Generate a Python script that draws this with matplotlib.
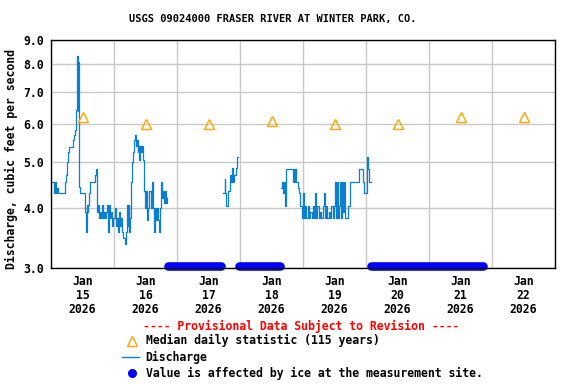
import matplotlib

matplotlib.use("Agg")
import matplotlib.pyplot as plt
import matplotlib.dates as mdates
import pandas as pd

START = pd.Timestamp("2026-01-15 00:00")
END = pd.Timestamp("2026-01-23 00:00")

# discharge (cfs), hours after Jan 15 00:00, step values
seg1_hours = [0.0, 1.0, 1.4, 1.8, 2.3, 2.8, 5.3, 5.7, 6.0, 6.35, 6.7, 8.25, 8.9, 9.3, 9.65,
              9.9, 10.15, 10.3, 10.45, 10.8, 11.2, 12.8, 13.1, 13.4, 13.7, 14.0, 14.2, 14.6,
              15.0, 16.8, 17.1, 17.4, 17.8, 18.2, 18.6, 19.0, 19.4, 19.8, 20.2, 20.6, 21.0,
              21.4, 21.8, 22.2, 22.6, 23.0, 23.4, 23.8, 24.3, 24.7, 25.1, 25.5, 25.9, 26.3,
              26.7, 27.1, 27.5, 28.0, 28.7, 29.0, 29.3, 29.6, 29.9, 30.2, 30.4, 30.8, 31.1,
              31.5, 31.8, 32.1, 32.4, 32.7, 33.0, 33.3, 33.6, 34.0, 34.4, 34.8, 35.2, 35.5,
              35.8, 36.3, 36.7, 37.1, 37.5, 38.0, 38.4, 38.7, 39.1, 39.5, 39.9, 40.4, 40.8,
              41.3, 41.7, 42.0, 42.3, 42.7, 43.1, 43.5, 43.8, 44.2]
seg1_cfs = [4.55, 4.30, 4.55, 4.30, 4.42, 4.30, 4.55, 4.70, 4.99, 5.24, 5.38, 5.56, 5.69, 5.84, 6.42,
            8.34, 8.10, 6.40, 8.10, 4.44, 4.30, 4.20, 3.93, 3.57, 4.06, 3.93, 4.06, 4.30,
            4.55, 4.70, 4.83, 3.93, 4.06, 3.81, 3.93, 3.81, 4.06, 3.81, 3.93, 3.81, 3.93,
            4.06, 3.57, 4.06, 3.81, 3.93, 3.67, 3.81, 4.00, 3.67, 3.81, 3.57, 3.93, 3.67,
            3.81, 3.57, 3.46, 3.36, 3.57, 4.06, 3.67, 4.06, 3.57, 3.81, 4.55, 4.99, 5.24,
            5.38, 5.56, 5.69, 5.41, 5.56, 5.24, 5.41, 5.05, 5.41, 5.24, 5.41, 5.05, 4.34,
            4.00, 4.34, 3.78, 4.00, 4.34, 4.00, 4.55, 4.00, 3.57, 4.00, 3.78, 4.00, 3.78,
            3.57, 4.00, 4.55, 4.20, 4.34, 4.10, 4.34, 4.10, 4.20]

seg2_hours = [65.6, 66.1, 66.3, 66.7, 67.5, 68.2, 68.6, 69.0, 69.3, 69.7, 70.3, 70.9, 71.4]
seg2_cfs = [4.30, 4.60, 4.30, 4.05, 4.35, 4.70, 4.55, 4.85, 4.55, 4.70, 4.85, 5.13, 5.13]

seg3_hours = [87.6, 88.0, 88.3, 88.7, 89.0, 89.4, 89.7, 92.2, 92.5, 92.8, 93.1, 93.5, 94.0,
              94.4, 94.9, 95.6, 96.0, 96.4, 96.8, 97.3, 97.8, 98.3, 98.8, 99.3, 99.8, 100.3,
              100.6, 101.0, 101.5, 102.0, 102.5, 103.0, 103.5, 104.0, 104.3, 104.8, 105.3,
              105.8, 106.3, 106.8, 107.3, 107.8, 108.2, 108.6, 109.0, 109.3, 109.7, 110.1,
              110.5, 110.9, 111.3, 111.7, 112.0, 113.3, 113.9, 117.5, 119.0, 119.4, 120.4,
              120.7, 120.9, 121.3, 121.8]
seg3_cfs = [4.42, 4.55, 4.30, 4.55, 4.05, 4.55, 4.83, 4.55, 4.83, 4.55, 4.83, 4.55, 4.42,
            4.30, 4.05, 3.81, 4.30, 3.81, 4.05, 3.81, 4.05, 3.81, 3.93, 3.81, 4.05, 3.81,
            4.30, 3.81, 4.05, 3.81, 3.93, 3.81, 4.05, 4.30, 3.81, 4.05, 3.81,
            3.93, 3.81, 4.05, 3.81, 4.05, 4.55, 3.81, 4.55, 3.81, 4.05, 4.55,
            3.81, 4.55, 3.93, 4.55, 3.81, 4.05, 4.55, 4.83, 4.55, 4.30, 5.11,
            4.97, 4.83, 4.55, 4.55]

# ice-affected periods (hours after Jan 15 00:00)
ice_start_hours = [44.6, 71.6, 121.9]
ice_end_hours = [64.8, 87.2, 164.6]

# median daily statistic at noon of each day
median_days = ["2026-01-15", "2026-01-16", "2026-01-17", "2026-01-18",
               "2026-01-19", "2026-01-20", "2026-01-21", "2026-01-22"]
median_cfs = [6.2, 6.0, 6.0, 6.1, 6.0, 6.0, 6.2, 6.2]

y_ticks = [3.0, 4.0, 5.0, 6.0, 7.0, 8.0, 9.0]

FONT = dict(family="DejaVu Sans Mono", weight="bold")
LINE_COLOR = "#0a7fd1"
MEDIAN_COLOR = "#ffa500"
ICE_COLOR = "#0000ff"


def to_time(hours):
    return START + pd.to_timedelta(hours, unit="h")


fig = plt.figure(figsize=(5.76, 3.84), dpi=100)
ax = fig.add_axes([51 / 576, 1 - 268 / 384, 504 / 576, 228 / 384])

for hrs, cfs in [(seg1_hours, seg1_cfs), (seg2_hours, seg2_cfs), (seg3_hours, seg3_cfs)]:
    ax.plot(to_time(hrs), cfs, color=LINE_COLOR, lw=0.9, drawstyle="steps-post", zorder=3)

for h0, h1 in zip(ice_start_hours, ice_end_hours):
    ax.plot(to_time([h0, h1]), [3.035, 3.035], color=ICE_COLOR, lw=6.2,
            solid_capstyle="round", clip_on=False, zorder=2)

med_t = pd.to_datetime(median_days) + pd.Timedelta(hours=12)
ax.plot(med_t, median_cfs, ls="none", marker="^", ms=7.5, mfc="none",
        mec=MEDIAN_COLOR, mew=1.0, zorder=4)

ax.set_yscale("log")
ax.set_ylim(3.0, 9.0)
ax.set_xlim(START, END)
ax.yaxis.set_major_locator(plt.FixedLocator(y_ticks))
ax.yaxis.set_minor_locator(plt.NullLocator())
ax.set_yticklabels([f"{v:.1f}" for v in y_ticks], **FONT, fontsize=8.3)

ax.xaxis.set_major_locator(mdates.HourLocator(byhour=12))
ax.xaxis.set_minor_locator(mdates.DayLocator())
ax.xaxis.set_major_formatter(
    plt.FuncFormatter(lambda x, pos: (lambda d: f"{d:%b}\n{d.day}\n{d.year}")(mdates.num2date(x))))
for lab in ax.get_xticklabels():
    lab.set_fontfamily("DejaVu Sans Mono")
    lab.set_fontweight("bold")
    lab.set_fontsize(8.3)
    lab.set_linespacing(1.1)

ax.tick_params(axis="both", which="both", length=0)
ax.tick_params(axis="x", pad=5)
ax.tick_params(axis="y", pad=5)
ax.grid(True, axis="y", which="major", color="#c8c8c8", lw=1.0)
ax.grid(True, axis="x", which="minor", color="#c8c8c8", lw=1.0)
ax.set_axisbelow(True)
for sp in ax.spines.values():
    sp.set_linewidth(1.0)
    sp.set_zorder(5)

ax.set_ylabel("Discharge, cubic feet per second", **FONT, fontsize=8.3)
ax.yaxis.set_label_coords(-0.066, 0.48)

fig.text(273 / 576, 1 - 19 / 384, "USGS 09024000 FRASER RIVER AT WINTER PARK, CO.",
         ha="center", va="center", **FONT, fontsize=7.5)

# legend block drawn in pixel coordinates
leg = fig.add_axes([0, 0, 1, 1], facecolor="none")
leg.set_xlim(0, 576)
leg.set_ylim(384, 0)
leg.axis("off")
leg.text(301.5, 326.7, "---- Provisional Data Subject to Revision ----", color="red",
         ha="center", va="center", **FONT, fontsize=8.3)
leg.plot([131.7], [340.5], marker="^", ms=7.5, mfc="none", mec=MEDIAN_COLOR, mew=1.0)
leg.plot([121.7, 139.3], [357.3, 357.3], color=LINE_COLOR, lw=1.0)
leg.plot([131.7], [373.3], marker="o", ms=5.5, color=ICE_COLOR)
for y, txt in [(340.7, "Median daily statistic (115 years)"),
               (357.3, "Discharge"),
               (373.3, "Value is affected by ice at the measurement site.")]:
    leg.text(145.7, y, txt, ha="left", va="center", **FONT, fontsize=8.3)

fig.savefig("out.png", dpi=100)
